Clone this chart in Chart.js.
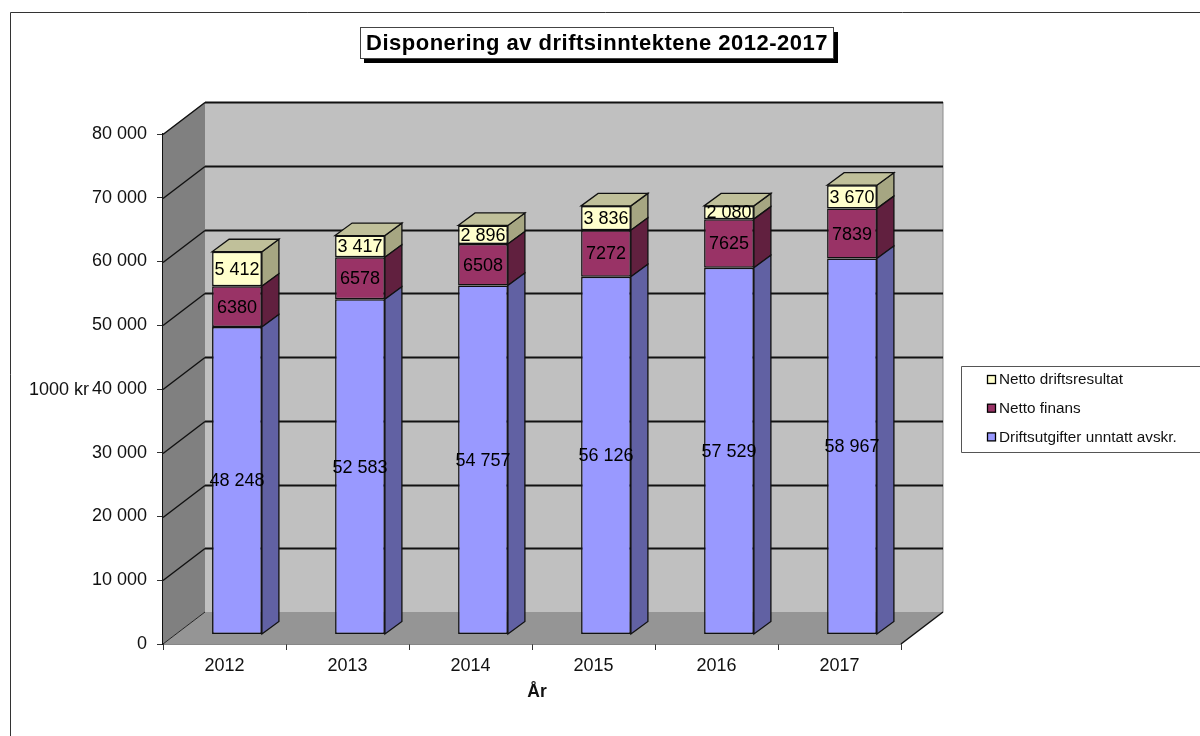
<!DOCTYPE html>
<html lang="no">
<head>
<meta charset="utf-8">
<title>Disponering av driftsinntektene 2012-2017</title>
<script src="https://cdn.jsdelivr.net/npm/chart.js@4"></script>
<style>
    html, body { margin: 0; padding: 0; background: #ffffff; overflow: hidden; }
    canvas { display: block; }
</style>
</head>
<body>
<canvas id="chart" width="1200" height="736"></canvas>
<script>
// Data
const years = ['2012', '2013', '2014', '2015', '2016', '2017'];
const driftsutgifter = [48248, 52583, 54757, 56126, 57529, 58967];
const nettoFinans = [6380, 6578, 6508, 7272, 7625, 7839];
const nettoResultat = [5412, 3417, 2896, 3836, 2080, 3670];

const chartTitle = 'Disponering av driftsinntektene 2012-2017';
const yAxisTitle = '1000 kr';
const xAxisTitle = 'År';

const FONT = '"Liberation Sans", Arial, sans-serif';

// Oblique offset of the back wall and of a bar's depth
const WALL_DX = 42;
const WALL_DY = -32;
const BAR_DX = 17;
const BAR_DY = -12.5;
// Bars stand partway into the floor
const BAR_SHIFT_X = 12.5;
const BAR_SHIFT_Y = -9.5;

function spaced(value) {
    return String(value).replace(/\B(?=(\d{3})+$)/g, ' ');
}

function polygon(ctx, points, fill, stroke, lineWidth) {
    ctx.beginPath();
    points.forEach((p, i) => i ? ctx.lineTo(p[0], p[1]) : ctx.moveTo(p[0], p[1]));
    ctx.closePath();
    if (fill) {
        ctx.fillStyle = fill;
        ctx.fill();
    }
    if (stroke) {
        ctx.strokeStyle = stroke;
        ctx.lineWidth = lineWidth || 1;
        ctx.stroke();
    }
}

function line(ctx, x1, y1, x2, y2, color, width) {
    ctx.beginPath();
    ctx.moveTo(x1, y1);
    ctx.lineTo(x2, y2);
    ctx.strokeStyle = color;
    ctx.lineWidth = width;
    ctx.stroke();
}

// Page frame, title box, axis titles and legend
const decorations = {
    id: 'decorations',
    beforeDraw(chart) {
        const ctx = chart.ctx;
        ctx.save();
        ctx.fillStyle = '#ffffff';
        ctx.fillRect(0, 0, chart.width, chart.height);
        ctx.beginPath();
        ctx.moveTo(10.5, chart.height);
        ctx.lineTo(10.5, 12.5);
        ctx.lineTo(chart.width, 12.5);
        ctx.strokeStyle = '#333333';
        ctx.lineWidth = 1;
        ctx.stroke();
        ctx.restore();
    },
    afterDraw(chart) {
        const ctx = chart.ctx;
        ctx.save();

        // Title
        ctx.fillStyle = '#000000';
        ctx.fillRect(364, 32, 474, 31);
        ctx.fillStyle = '#ffffff';
        ctx.fillRect(360, 28, 474, 31);
        ctx.strokeStyle = '#444444';
        ctx.lineWidth = 1;
        ctx.strokeRect(360.5, 27.5, 473, 31);
        ctx.fillStyle = '#000000';
        ctx.font = 'bold 22px ' + FONT;
        ctx.letterSpacing = '0.5px';
        ctx.textAlign = 'center';
        ctx.textBaseline = 'middle';
        ctx.fillText(chartTitle, 597, 44);
        ctx.letterSpacing = '0px';

        // Axis titles
        ctx.fillStyle = '#111111';
        ctx.font = '18px ' + FONT;
        ctx.textAlign = 'left';
        ctx.fillText(yAxisTitle, 29, chart.scales.y.getPixelForValue(40000) + 1);
        ctx.font = 'bold 17.5px ' + FONT;
        ctx.textAlign = 'center';
        ctx.fillText(xAxisTitle, 537, 692);

        // Legend, top row is the top of the stack
        ctx.strokeStyle = '#555555';
        ctx.lineWidth = 1;
        ctx.beginPath();
        ctx.moveTo(chart.width, 366.5);
        ctx.lineTo(961.5, 366.5);
        ctx.lineTo(961.5, 452.5);
        ctx.lineTo(chart.width, 452.5);
        ctx.stroke();
        ctx.font = '15.3px ' + FONT;
        ctx.textAlign = 'left';
        const rows = chart.data.datasets.slice().reverse();
        rows.forEach((ds, i) => {
            const y = 380 + i * 28.7;
            ctx.fillStyle = ds.backgroundColor;
            ctx.fillRect(987.5, y - 4.5, 8, 8);
            ctx.strokeStyle = '#000000';
            ctx.lineWidth = 1.3;
            ctx.strokeRect(987.5, y - 4.5, 8, 8);
            ctx.fillStyle = '#111111';
            ctx.fillText(ds.label, 999, y);
        });
        ctx.restore();
    }
};

// Side wall, back wall, floor and the gridlines on the walls
const walls = {
    id: 'walls',
    beforeDatasetsDraw(chart) {
        const ctx = chart.ctx;
        const { left, right, top, bottom } = chart.chartArea;
        ctx.save();
        polygon(ctx, [[left + WALL_DX, top + WALL_DY], [right + WALL_DX, top + WALL_DY],
            [right + WALL_DX, bottom + WALL_DY], [left + WALL_DX, bottom + WALL_DY]], '#c0c0c0');
        polygon(ctx, [[left, top], [left + WALL_DX, top + WALL_DY],
            [left + WALL_DX, bottom + WALL_DY], [left, bottom]], '#808080');
        polygon(ctx, [[left, bottom], [left + WALL_DX, bottom + WALL_DY],
            [right + WALL_DX, bottom + WALL_DY], [right, bottom]], '#959595');
        line(ctx, right + WALL_DX, top + WALL_DY, right + WALL_DX, bottom + WALL_DY, '#8c8c8c', 1);

        chart.scales.y.ticks.forEach(t => {
            const y = Math.round(chart.scales.y.getPixelForValue(t.value)) + 0.5;
            if (t.value > 0) {
                line(ctx, left, y, left + WALL_DX, y + WALL_DY, '#111111', 1.5);
                line(ctx, left + WALL_DX, y + WALL_DY, right + WALL_DX, y + WALL_DY, '#111111', 2);
            }
        });
        line(ctx, left, bottom, left + WALL_DX, bottom + WALL_DY, '#222222', 1);
        line(ctx, right, bottom, right + WALL_DX, bottom + WALL_DY, '#111111', 1.5);
        ctx.restore();
    }
};

// Depth faces of each bar segment, and the shift of the front faces into the floor
const bars3d = {
    id: 'bars3d',
    beforeDatasetDraw(chart, args) {
        const ctx = chart.ctx;
        const ds = chart.data.datasets[args.index];
        const isTop = args.index === chart.data.datasets.length - 1;
        ctx.save();
        ctx.translate(BAR_SHIFT_X, BAR_SHIFT_Y);
        args.meta.data.forEach(bar => {
            const r = bar.x + bar.width / 2;
            const l = bar.x - bar.width / 2;
            polygon(ctx, [[r, bar.y], [r + BAR_DX, bar.y + BAR_DY],
                [r + BAR_DX, bar.base + BAR_DY], [r, bar.base]], ds.sideColor, '#111111', 1.3);
            if (isTop) {
                polygon(ctx, [[l, bar.y], [l + BAR_DX, bar.y + BAR_DY],
                    [r + BAR_DX, bar.y + BAR_DY], [r, bar.y]], ds.topColor, '#111111', 1.3);
            }
        });
    },
    afterDatasetDraw(chart) {
        chart.ctx.restore();
    },
    // Value labels go on last so they sit above every face
    afterDatasetsDraw(chart) {
        const ctx = chart.ctx;
        ctx.save();
        ctx.font = '18px ' + FONT;
        ctx.textAlign = 'center';
        ctx.textBaseline = 'middle';
        ctx.fillStyle = '#000000';
        chart.data.datasets.forEach((ds, d) => {
            chart.getDatasetMeta(d).data.forEach((bar, i) => {
                const text = ds.plainLabels ? String(ds.data[i]) : spaced(ds.data[i]);
                ctx.fillText(text, bar.x + BAR_SHIFT_X, (bar.y + bar.base) / 2 + BAR_SHIFT_Y + 1);
            });
        });
        ctx.restore();
    }
};

new Chart(document.getElementById('chart'), {
    type: 'bar',
    data: {
        labels: years,
        datasets: [
            {
                label: 'Driftsutgifter unntatt avskr.',
                data: driftsutgifter,
                backgroundColor: '#9999ff',
                sideColor: '#6161a3',
                topColor: '#c0c0ff'
            },
            {
                label: 'Netto finans',
                data: nettoFinans,
                plainLabels: true,
                backgroundColor: '#993366',
                sideColor: '#61203f',
                topColor: '#c06090'
            },
            {
                label: 'Netto driftsresultat',
                data: nettoResultat,
                backgroundColor: '#ffffcc',
                sideColor: '#a6a682',
                topColor: '#c0c09a'
            }
        ].map(ds => ({
            ...ds,
            borderColor: '#111111',
            borderWidth: 1.5,
            borderSkipped: false,
            barPercentage: 0.405,
            categoryPercentage: 1,
            clip: false
        }))
    },
    options: {
        responsive: false,
        animation: false,
        layout: { padding: { top: 134, right: 299, left: 0, bottom: 0 } },
        plugins: {
            legend: { display: false },
            title: { display: false },
            tooltip: { enabled: false }
        },
        scales: {
            x: {
                stacked: true,
                afterFit: scale => { scale.height = 92; },
                border: { color: '#111111', width: 1.5 },
                grid: {
                    drawOnChartArea: false,
                    color: '#333333',
                    tickLength: 6
                },
                ticks: {
                    color: '#111111',
                    padding: 5,
                    maxRotation: 0,
                    font: { family: FONT, size: 18 }
                }
            },
            y: {
                stacked: true,
                min: 0,
                max: 80000,
                afterFit: scale => { scale.width = 163; },
                border: { color: '#111111', width: 1.5 },
                grid: {
                    drawOnChartArea: false,
                    color: '#333333',
                    tickLength: 6
                },
                ticks: {
                    stepSize: 10000,
                    color: '#111111',
                    padding: 10,
                    font: { family: FONT, size: 18 },
                    callback: value => spaced(value)
                }
            }
        }
    },
    plugins: [decorations, walls, bars3d]
});
</script>
</body>
</html>
